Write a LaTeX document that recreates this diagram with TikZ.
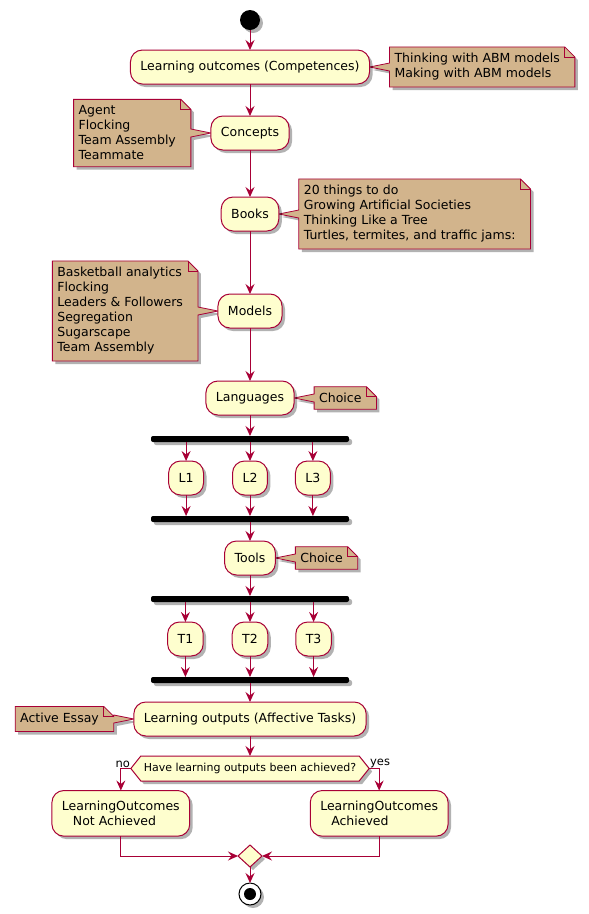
\documentclass[tikz,border=0pt]{standalone}
\usepackage{fontspec}
\setmainfont{DejaVu Sans}
\usepackage{xcolor}
\usepackage{tikz}
\usetikzlibrary{shapes.geometric,arrows.meta,positioning,shadows,backgrounds}
\definecolor{umlred}{HTML}{A80036}
\definecolor{umlfill}{HTML}{FEFECE}
\definecolor{notefill}{HTML}{D2B48C}

% note on the right of its box, tail pointing left
\newcommand{\rnote}[2]{%
  \begin{pgfonlayer}{background}
  \filldraw[notebody] (#1.north west) -- (#1.north east) -- ([xshift=10pt,yshift=-10pt]#1.north east)
    -- ([xshift=10pt]#1.south east) -- (#1.south west) -- ([yshift=-4pt]#1.west) -- (#2)
    -- ([yshift=4pt]#1.west) -- cycle;
  \draw[notefold] (#1.north east) -- ([yshift=-10pt]#1.north east) -- ([xshift=10pt,yshift=-10pt]#1.north east);
  \end{pgfonlayer}}
% note on the left of its box, tail pointing right
\newcommand{\lnote}[2]{%
  \begin{pgfonlayer}{background}
  \filldraw[notebody] (#1.north west) -- (#1.north east) -- ([xshift=10pt,yshift=-10pt]#1.north east)
    -- ([xshift=10pt,yshift=4pt]#1.east) -- (#2) -- ([xshift=10pt,yshift=-4pt]#1.east)
    -- ([xshift=10pt]#1.south east) -- (#1.south west) -- cycle;
  \draw[notefold] (#1.north east) -- ([yshift=-10pt]#1.north east) -- ([xshift=10pt,yshift=-10pt]#1.north east);
  \end{pgfonlayer}}

\begin{document}
\begin{tikzpicture}[x=1pt, y=-1pt,
  every node/.style={outer sep=0pt},
  shd/.style={drop shadow={shadow xshift=3pt, shadow yshift=-3pt, opacity=0.3, fill=black}},
  act/.style={rectangle, draw=umlred, fill=umlfill, line width=1pt, rounded corners=12pt, minimum height=34pt,
    inner xsep=10pt, inner ysep=10.5pt, align=left, font=\fontsize{12.5}{15}\selectfont, shd},
  note/.style={inner xsep=5pt, inner ysep=6.5pt, align=left, font=\fontsize{12.5}{15}\selectfont},
  notebody/.style={draw=umlred, fill=notefill, line width=0.8pt, shd},
  notefold/.style={draw=umlred, line width=0.8pt},
  bar/.style={rectangle, fill=black, minimum width=198pt, minimum height=6pt, inner sep=0pt, rounded corners=2pt, shd},
  quest/.style={rectangle, minimum height=25pt, inner xsep=3pt, font=\fontsize{11}{13}\selectfont},
  lbl/.style={inner sep=1pt, font=\fontsize{11.5}{13}\selectfont},
  startnode/.style={circle, fill=black, minimum size=20pt, inner sep=0pt, shd},
  stopnode/.style={circle, draw=black, fill=white, line width=1pt, minimum size=22pt, inner sep=0pt, shd,
    path picture={\fill[black] (path picture bounding box.center) circle (6pt);}},
  mrgnode/.style={diamond, draw=umlred, fill=umlfill, line width=1pt, minimum width=24pt, minimum height=22pt, inner sep=0pt, shd},
  arr/.style={-{Stealth[length=10pt, width=9pt, inset=3.5pt]}, draw=umlred, line width=1pt}
]
\useasboundingbox (0,0) rectangle (589,914);

\node[startnode] (start) at (250,20) {};
\node[act, below=20pt of start] (lo)  {Learning outcomes (Competences)};
\node[act, below=32pt of lo]    (cpt) {Concepts};
\node[act, below=47pt of cpt]   (bks) {Books};
\node[act, below=63pt of bks]   (mdl) {Models};
\node[act, below=53pt of mdl]   (lng) {Languages};
\node[bar, below=21pt of lng]   (fork1) {};
\node[act, below=19pt of fork1] (L2) {L2};
\node[act, left=29pt of L2]     (L1) {L1};
\node[act, right=28pt of L2]    (L3) {L3};
\node[bar, below=21pt of L2]    (join1) {};
\node[act, below=19pt of join1] (tls) {Tools};
\node[bar, below=21pt of tls]   (fork2) {};
\node[act, below=20pt of fork2] (T2) {T2};
\node[act, left=29pt of T2]     (T1) {T1};
\node[act, right=28pt of T2]    (T3) {T3};
\node[bar, below=21pt of T2]    (join2) {};
\node[act, below=19pt of join2] (lout) {Learning outputs (Affective Tasks)};
\node[quest, below=20pt of lout] (q) {Have learning outputs been achieved?};
\coordinate (qL) at ([xshift=-10pt]q.west);
\coordinate (qR) at ([xshift=10pt]q.east);
\coordinate[left=10pt of qL]  (nob);
\coordinate[right=10pt of qR] (yesb);
\node[act, below=22pt of nob]  (nach) {LearningOutcomes\\\hspace*{11pt}Not Achieved};
\node[act, below=22pt of yesb] (ach)  {LearningOutcomes\\\hspace*{11pt}Achieved};
\node[mrgnode, below=64pt of q] (mrg) {};
\node[stopnode, below=16pt of mrg] (stop) {};
\node[lbl, anchor=south east] at (qL) {no};
\node[lbl, anchor=south west] at (qR) {yes};

\begin{pgfonlayer}{background}
\filldraw[draw=umlred, fill=umlfill, line width=1pt, shd] (q.north west) -- (q.north east) -- (qR)
  -- (q.south east) -- (q.south west) -- (qL) -- cycle;
\end{pgfonlayer}

% notes
\node[note, right=20pt of lo]  (n1) {Thinking with ABM models\\Making with ABM models};
\node[note, left=30pt of cpt]  (n2) {Agent\\Flocking\\Team Assembly\\Teammate};
\node[note, right=20pt of bks] (n3) {20 things to do\\Growing Artificial Societies\\Thinking Like a Tree\\Turtles, termites, and traffic jams:};
\node[note, left=30pt of mdl]  (n4) {Basketball analytics\\Flocking\\Leaders \& Followers\\Segregation\\Sugarscape\\Team Assembly};
\node[note, right=20pt of lng] (n5) {Choice};
\node[note, right=20pt of tls] (n6) {Choice};
\node[note, left=30pt of lout] (n7) {Active Essay};
\rnote{n1}{lo.east}
\lnote{n2}{cpt.west}
\rnote{n3}{bks.east}
\lnote{n4}{mdl.west}
\rnote{n5}{lng.east}
\rnote{n6}{tls.east}
\lnote{n7}{lout.west}

\draw[arr] (start) -- (lo);
\draw[arr] (lo)  -- (cpt);
\draw[arr] (cpt) -- (bks);
\draw[arr] (bks) -- (mdl);
\draw[arr] (mdl) -- (lng);
\draw[arr] (lng) -- (fork1);
\foreach \n in {L1,L2,L3} {
  \draw[arr] (\n |- fork1.south) -- (\n);
  \draw[arr] (\n) -- (\n |- join1.north);
}
\draw[arr] (join1) -- (tls);
\draw[arr] (tls) -- (fork2);
\foreach \n in {T1,T2,T3} {
  \draw[arr] (\n |- fork2.south) -- (\n);
  \draw[arr] (\n) -- (\n |- join2.north);
}
\draw[arr] (join2) -- (lout);
\draw[arr] (lout) -- (q);
\draw[arr] (qL) -| (nach);
\draw[arr] (qR) -| (ach);
\draw[arr] (nach) |- (mrg.west);
\draw[arr] (ach)  |- (mrg.east);
\draw[arr] (mrg) -- (stop);
\end{tikzpicture}
\end{document}
